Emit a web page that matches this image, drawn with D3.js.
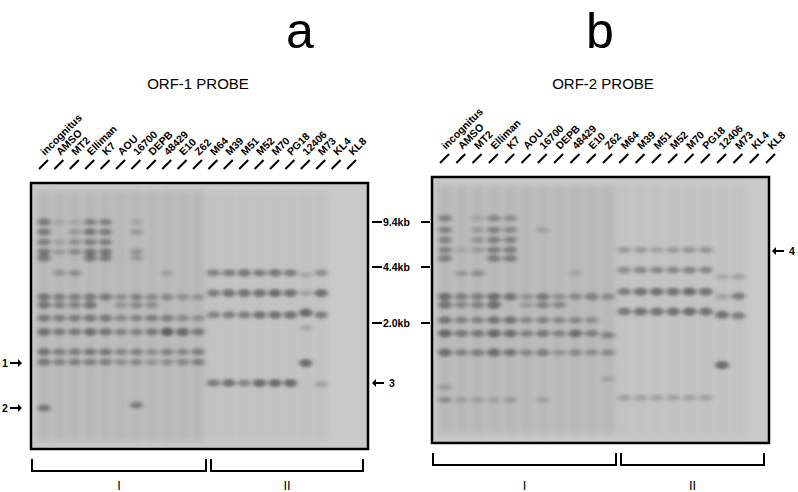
<!DOCTYPE html>
<html><head><meta charset="utf-8">
<script src="https://cdn.jsdelivr.net/npm/d3@7"></script>
<style>body{margin:0;background:#fff}svg{display:block}text{font-family:Arial,"Liberation Sans",sans-serif}</style>
</head><body>
<div id="chart"></div>
<script>
let width = 798, height = 492;

let lanes = ["incognitus","AMSO","MT2","Elliman","K7","AOU","16700","DEPB","48429","E10","Z62","M64","M39","M51","M52","M70","PG18","12406","M73","KL4","KL8"];
// lane index ; y position in % of gel height ; darkness 0..1
let bands_a = [
  [0,14.7,.6],[3,14.7,.5],[4,14.7,.5],[1,14.7,.2],[2,14.7,.2],[6,14.7,.2],
  [0,18.4,.6],[3,18.4,.6],[4,18.4,.55],[2,18.4,.3],[6,18.4,.3],
  [0,22.2,.55],[3,22.2,.55],[4,22.2,.55],[2,22.2,.4],[1,22.2,.25],
  [0,25.9,.6],[3,25.9,.6],[4,25.9,.6],[2,25.9,.45],[1,25.9,.3],[6,25.9,.35],
  [0,28.2,.6],[3,28.2,.6],[4,28.2,.55],[6,28.2,.3],
  [1,33.8,.35],[2,33.8,.4],[8,33.8,.25],
  [0,42.9,.65],[1,42.9,.55],[2,42.9,.55],[3,42.9,.6],[4,42.9,.6],[5,42.9,.4],[6,42.9,.5],[7,42.9,.45],[8,42.9,.45],[9,42.9,.4],[10,42.9,.35],
  [0,45.9,.65],[1,45.9,.5],[2,45.9,.5],[3,45.9,.65],[5,45.9,.35],[6,45.9,.45],[7,45.9,.4],
  [0,50.8,.6],[1,50.8,.55],[2,50.8,.55],[3,50.8,.6],[4,50.8,.6],[5,50.8,.45],[6,50.8,.5],[7,50.8,.55],[8,50.8,.55],[9,50.8,.45],[10,50.8,.4],
  [0,56,.7],[1,56,.6],[2,56,.6],[3,56,.7],[4,56,.65],[5,56,.5],[6,56,.5],[7,56,.6],[8,56,.85],[9,56,.75],[10,56,.6],
  [0,63.5,.65],[1,63.5,.55],[2,63.5,.55],[3,63.5,.6],[4,63.5,.6],[5,63.5,.45],[6,63.5,.5],[7,63.5,.4],[8,63.5,.5],[9,63.5,.45],[10,63.5,.55],
  [0,67.3,.6],[1,67.3,.5],[2,67.3,.55],[3,67.3,.55],[4,67.3,.55],[5,67.3,.4],[6,67.3,.45],[7,67.3,.35],[8,67.3,.4],[9,67.3,.45],[10,67.3,.55],
  [0,84.6,.6],[6,83.5,.55],
  [11,33.8,.55],[12,33.8,.6],[13,33.8,.65],[14,33.8,.6],[15,33.8,.65],[16,33.8,.6],[17,34.5,.25],[18,33.8,.45],
  [11,41.4,.6],[12,41.4,.7],[13,41.4,.7],[14,41.4,.7],[15,41.4,.75],[16,41.4,.7],[17,41.4,.3],[18,41.4,.7],
  [11,49.6,.55],[12,49.6,.6],[13,49.6,.6],[14,49.6,.7],[15,49.6,.7],[16,49.6,.7],[17,48.8,.8],[18,49.6,.6],
  [17,54.5,.25],[17,67.7,.75],
  [11,75.2,.6],[12,75.2,.7],[13,75.2,.55],[14,75.2,.75],[15,75.2,.75],[16,75.2,.75],[18,75.6,.3]
];
let bands_b = [
  [0,15.5,.5],[3,15.5,.45],[4,15.5,.4],[2,15.5,.2],
  [0,19.9,.5],[3,19.9,.5],[4,19.9,.45],[2,19.9,.3],[6,19.9,.25],
  [0,23.7,.5],[3,23.7,.55],[4,23.7,.5],[2,23.7,.35],
  [0,27.4,.5],[3,27.4,.55],[4,27.4,.55],[2,27.4,.3],[1,27.4,.2],
  [0,30.6,.55],[3,30.6,.55],[4,30.6,.55],
  [1,36.2,.3],[2,36.2,.4],[8,36.2,.2],
  [0,45,.7],[1,45,.55],[2,45,.55],[3,45,.7],[4,45,.65],[5,45,.35],[6,45,.6],[7,45,.4],[8,45,.45],[9,45,.55],[10,45,.45],
  [0,48.1,.65],[1,48.1,.45],[2,48.1,.5],[3,48.1,.7],[5,48.1,.3],[6,48.1,.5],[7,48.1,.45],
  [0,53.8,.65],[1,53.8,.5],[2,53.8,.5],[3,53.8,.65],[4,53.8,.65],[5,53.8,.45],[6,53.8,.5],[7,53.8,.45],[8,53.8,.45],[9,53.8,.4],
  [0,58.8,.75],[1,58.8,.6],[2,58.8,.6],[3,58.8,.75],[4,58.8,.7],[5,58.8,.5],[6,58.8,.6],[7,58.8,.5],[8,58.8,.7],[9,58.8,.55],[10,59.5,.5],
  [0,66,.7],[1,66,.5],[2,66,.55],[3,66,.7],[4,66,.65],[5,66,.45],[6,66,.55],[7,66,.35],[8,66,.45],[9,66,.4],[10,66,.45],
  [0,79,.3],[0,83.8,.4],[1,83.8,.25],[2,83.8,.25],[3,83.8,.25],[4,83.8,.3],[6,83.8,.25],
  [11,27.4,.35],[12,27.4,.35],[13,27.4,.3],[14,27.4,.35],[15,27.4,.4],[16,27.4,.4],
  [11,35,.45],[12,35,.5],[13,35,.5],[14,35,.5],[15,35,.55],[16,35,.5],[17,37.5,.25],[18,37.5,.3],
  [11,43.1,.6],[12,43.1,.7],[13,43.1,.7],[14,43.1,.7],[15,43.1,.75],[16,43.1,.7],[17,45,.3],[18,44.8,.6],
  [11,50.6,.65],[12,50.6,.7],[13,50.6,.7],[14,50.6,.7],[15,50.6,.75],[16,50.6,.7],[17,51.8,.7],[18,52.2,.6],
  [17,70.7,.75],[10,76,.2],
  [11,83,.3],[12,83,.3],[13,83,.3],[14,83,.3],[15,83,.3],[16,83,.3]
];
let markers = [{label:"9.4kb", y:222},{label:"4.4kb", y:267},{label:"2.0kb", y:323}];

let svg = d3.select("#chart").append("svg").attr("width", width).attr("height", height);
let defs = svg.append("defs");
defs.append("filter").attr("id","blur").attr("x","-50%").attr("y","-50%").attr("width","200%").attr("height","200%")
  .append("feGaussianBlur").attr("stdDeviation", "2 1.4");
defs.append("filter").attr("id","smear").append("feGaussianBlur").attr("stdDeviation", 3);

let panels = [
  {key:"a", title:"ORF-1 PROBE", bands:bands_a, x0:31, x1:368, y0:183, y1:449, lx0:44, lx1:352, tx:300, px:198},
  {key:"b", title:"ORF-2 PROBE", bands:bands_b, x0:432, x1:769, y0:177, y1:443, lx0:445, lx1:771, tx:600, px:603}
];

panels.forEach(p => {
  let g = svg.append("g");
  let xScale = d3.scalePoint().domain(d3.range(lanes.length)).range([p.lx0, p.lx1]);
  let yScale = d3.scaleLinear().domain([0, 100]).range([p.y0, p.y1]);
  let lw = xScale.step() * 0.85;

  g.append("text").attr("x", p.tx).attr("y", 48).attr("text-anchor","middle")
    .attr("font-size", 50).text(p.key);
  g.append("text").attr("x", p.px).attr("y", 89).attr("text-anchor","middle")
    .attr("font-size", 15).text(p.title);

  g.append("rect").attr("x", p.x0).attr("y", p.y0).attr("width", p.x1 - p.x0).attr("height", p.y1 - p.y0)
    .attr("fill", "#c9c9c9");
  let clipId = "clip" + p.key;
  defs.append("clipPath").attr("id", clipId).append("rect")
    .attr("x", p.x0).attr("y", p.y0).attr("width", p.x1 - p.x0).attr("height", p.y1 - p.y0);
  let gel = g.append("g").attr("clip-path", "url(#" + clipId + ")");

  gel.append("g").attr("filter","url(#smear)").selectAll("rect")
    .data(d3.range(19)).join("rect")
    .attr("x", d => xScale(d) - lw / 2).attr("y", yScale(3)).attr("width", lw).attr("height", yScale(97) - yScale(3))
    .attr("fill", "#8a8a8a").attr("opacity", d => d < 11 ? 0.28 : 0.12);

  gel.append("g").attr("filter","url(#blur)").selectAll("ellipse")
    .data(p.bands).join("ellipse")
    .attr("cx", d => xScale(d[0])).attr("cy", d => yScale(d[1]))
    .attr("rx", lw / 2).attr("ry", d => 2.2 + d[2] * 2.6)
    .attr("fill", "#333").attr("opacity", d => d[2] * 0.8);

  g.append("rect").attr("x", p.x0).attr("y", p.y0).attr("width", p.x1 - p.x0).attr("height", p.y1 - p.y0)
    .attr("fill", "none").attr("stroke", "#000").attr("stroke-width", 2.5);

  let lab = g.selectAll(".lane").data(lanes).join("g").attr("class","lane")
    .attr("transform", (d, i) => "translate(" + xScale(i) + "," + (p.y0 - 18) + ")");
  lab.append("line").attr("x1", -5).attr("y1", 4).attr("x2", 4).attr("y2", -5)
    .attr("stroke", "#000").attr("stroke-width", 2);
  lab.append("text").attr("transform", "translate(1,-9) rotate(-45)")
    .attr("font-size", 10.5).attr("font-weight", "bold").text(d => d);

  let groups = [{name:"I", a:p.x0 + 1, b:xScale(10) + 8}, {name:"II", a:xScale(10) + 13, b:p.x1 - 5}];
  groups.forEach(gr => {
    let by = p.y1 + 10;
    g.append("path").attr("d", "M" + gr.a + "," + by + "V" + (by + 12) + "H" + gr.b + "V" + by)
      .attr("fill","none").attr("stroke","#000").attr("stroke-width", 2);
    g.append("text").attr("x", (gr.a + gr.b) / 2).attr("y", 490).attr("text-anchor","middle")
      .attr("font-size", 13).attr("fill", "#000").text(gr.name);
  });
});

markers.forEach(m => {
  svg.append("line").attr("x1", 372).attr("x2", 382).attr("y1", m.y).attr("y2", m.y).attr("stroke","#000").attr("stroke-width",2);
  svg.append("text").attr("x", 383).attr("y", m.y + 4).attr("font-size", 10.5).attr("font-weight","bold").text(m.label);
  svg.append("line").attr("x1", 421).attr("x2", 430).attr("y1", m.y).attr("y2", m.y).attr("stroke","#000").attr("stroke-width",2);
});

function arrow(x, y, dir, label) {
  let g = svg.append("g").attr("transform", "translate(" + x + "," + y + ")");
  let s = dir;
  g.append("path").attr("d", "M0,0 L" + (4 * s) + ",-4 L" + (4 * s) + ",4 Z").attr("fill","#000");
  g.append("line").attr("x1", 3 * s).attr("x2", 12 * s).attr("y1", 0).attr("y2", 0).attr("stroke","#000").attr("stroke-width",2);
  g.append("text").attr("x", dir < 0 ? -20 : 17).attr("y", 4).attr("font-size", 10.5).attr("font-weight","bold").text(label);
}
arrow(22, 363, -1, "1");
arrow(22, 408, -1, "2");
arrow(372, 383, 1, "3");
arrow(772, 251, 1, "4");
</script>
</body></html>
